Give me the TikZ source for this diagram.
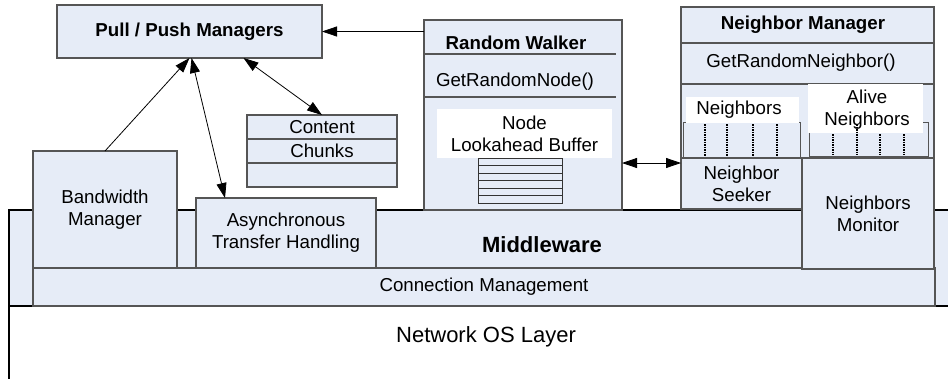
\documentclass[tikz,border=0pt]{standalone}
\usepackage{fontspec}
\setmainfont{Liberation Sans}
\usetikzlibrary{arrows.meta,calc}
\definecolor{boxblue}{RGB}{230,236,247}
\definecolor{edgegray}{RGB}{85,85,85}
\newcommand{\fsn}{\fontsize{18.7}{22}\selectfont}
\newcommand{\fsl}{\fontsize{22}{26}\selectfont}
\begin{document}
\begin{tikzpicture}[x=1pt,y=-1pt,
  box/.style={draw=edgegray, fill=boxblue, line width=1.1pt, inner sep=0pt, outer sep=0pt, align=center, font=\fsn},
  txt/.style={align=center, inner sep=0pt, font=\fsn},
  whitebox/.style={fill=white, draw=none, inner sep=0pt, outer sep=0pt},
  sep/.style={draw=edgegray, line width=1.1pt},
  ticks/.style={draw=black, line width=1.5pt, dash pattern=on 1.5pt off 1pt},
  tip/.tip={Triangle[length=15pt,width=10pt]},
  arr/.style={-tip, line width=0.8pt, draw=black},
  darr/.style={tip-tip, line width=0.8pt, draw=black}]
\path[use as bounding box] (0,0) rectangle (948,378);
\clip (0,0) rectangle (948,378);

% Network OS layer
\node[draw=black, line width=1.2pt, fill=white, minimum width=980pt, minimum height=100pt, inner sep=0pt] (nos) at (499,356) {};
\node[txt, font=\fsl] (nost) at (486,337) {Network OS Layer};

% Middleware
\node[box, draw=black, line width=2.4pt, minimum width=980pt, minimum height=96pt] (mw) at (499,258) {};
\node[txt, font=\fsl\bfseries] (mwt) at (542,245) {Middleware};

% Connection management
\node[box, minimum width=902pt, minimum height=38pt] (cm) at (484,287) {Connection Management};

% Bandwidth manager
\node[box, minimum width=144pt, minimum height=117pt] (bw) at (105,209.5) {Bandwidth\\Manager};

% Asynchronous transfer handling
\node[box, minimum width=180pt, minimum height=70pt] (as) at (286,233) {Asynchronous\\Transfer Handling};

% Pull / Push managers
\node[box, minimum width=265pt, minimum height=53pt, font=\fsn\bfseries] (pp) at (189.5,31.5) {Pull / Push Managers};

% Content chunks
\node[box, minimum width=150pt, minimum height=72pt] (cc) at (322,151) {};
\draw[sep] (247,139) -- (397,139);
\draw[sep] (247,163) -- (397,163);
\node[txt] (cct1) at (322,127) {Content};
\node[txt] (cct2) at (322,151) {Chunks};

% Random walker
\node[box, minimum width=198pt, minimum height=190pt] (rw) at (523,115) {};
\draw[sep] (424,54) -- (616,54);
\draw[sep] (424,97) -- (616,97);
\node[txt, font=\fsn\bfseries] (rwt) at (516,43) {Random Walker};
\node[txt] (rwm) at (515,82) {GetRandomNode()};
\node[whitebox, minimum width=175pt, minimum height=49pt] (lbw) at (524.5,133.5) {};
\node[txt] (lbt) at (524.5,133.5) {Node\\Lookahead Buffer};
\draw[sep, line width=0.9pt, draw=black!80] (478,158) rectangle (562,203);
\foreach \yy in {165.5,173,180.5,188,195.5}
  \draw[sep, line width=0.9pt, draw=black!80] (478,\yy) -- (562,\yy);

% Neighbor manager
\node[box, minimum width=253pt, minimum height=151pt] (nm) at (807.5,82.5) {};
\draw[sep] (681,43) -- (934,43);
\draw[sep] (681,84) -- (934,84);
\node[txt, font=\fsn\bfseries] (nmt) at (803,25) {Neighbor Manager};
\node[txt] (nmm) at (801,63) {GetRandomNeighbor()};
% neighbors list
\draw[draw=edgegray, line width=1pt, fill=boxblue] (683,122) rectangle (800,158);
\node[whitebox, minimum width=113pt, minimum height=26pt] (nbw) at (742.5,110) {};
\node[txt] (nbt) at (739,110) {Neighbors};
\foreach \xx in {705,727,753,777}
  \draw[ticks] (\xx,124) -- (\xx,157);
% alive neighbors list
\draw[draw=edgegray, line width=1pt, fill=boxblue] (809,122) rectangle (928,156);
\node[whitebox, minimum width=115pt, minimum height=49pt] (anw) at (865.5,108.5) {};
\node[txt] (ant) at (867,110) {Alive\\Neighbors};
\foreach \xx in {833,880,904}
  \draw[ticks] (\xx,134) -- (\xx,155);
\draw[ticks] (857,124) -- (857,155);

% Neighbor seeker and monitor
\node[box, minimum width=121pt, minimum height=51pt] (ns) at (741.5,183.5) {Neighbor\\Seeker};
\node[box, minimum width=132pt, minimum height=111pt] (nmon) at (868,213.5) {Neighbors\\Monitor};

% Connectors
\draw[arr] (bw.north) -- (pp.south);
\draw[darr] ($(pp.south)+(2pt,0)$) -- ($(as.north west)+(29pt,0)$);
\draw[darr] ($(pp.south)+(54pt,0)$) -- (cc.north);
\draw[arr] (rw.west |- pp.east) -- (pp.east);
\coordinate (ar1) at ($(ns.north west)+(0,5)$);
\draw[darr] (rw.east |- ar1) -- (ar1);
\end{tikzpicture}
\end{document}
